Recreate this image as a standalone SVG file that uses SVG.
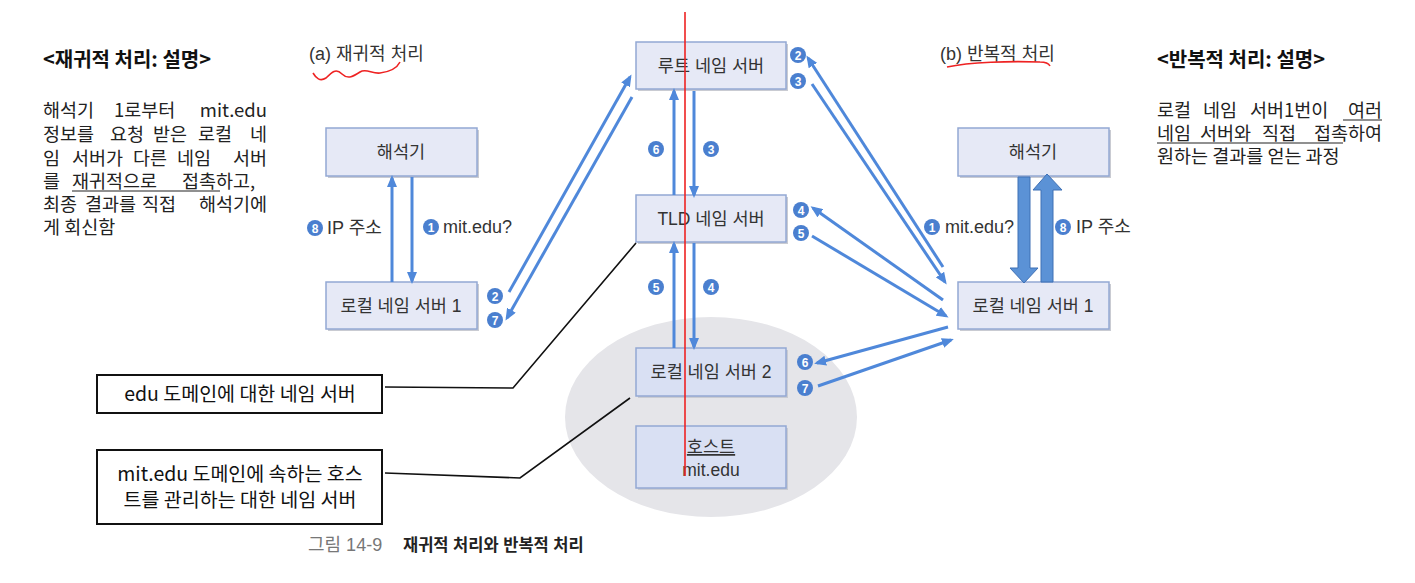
<svg xmlns="http://www.w3.org/2000/svg" width="1415" height="583" viewBox="0 0 1415 583">
<defs>
<style>
.box{fill:#e6e9f6;stroke:#93a8d3;stroke-width:1.5}
.box2{fill:#d9e0f3;stroke:#93a8d3;stroke-width:1.5}
.shadow{fill:#c9cbd2}
.bt{font-family:"Liberation Sans","Noto Sans CJK KR",sans-serif;font-size:17.5px;fill:#333;text-anchor:middle}
.lbl{font-family:"Liberation Sans","Noto Sans CJK KR",sans-serif;font-size:18px;fill:#333}
.num{font-family:"Liberation Sans",sans-serif;font-size:12px;font-weight:bold;fill:#fff;text-anchor:middle}
.nc{fill:#4a7fcf}
.arr{stroke:#4f88da;stroke-width:3;fill:none;marker-end:url(#ah)}
.desc{font-family:"Noto Sans CJK KR",sans-serif;font-size:18.5px;fill:#222}
.head{font-family:"Noto Sans CJK KR",sans-serif;font-size:20px;font-weight:bold;fill:#111}
.ul{stroke:#222;stroke-width:1.2}
.cb{fill:#fff;stroke:#111;stroke-width:2}
.ct{font-family:"Noto Sans CJK KR",sans-serif;font-size:19.5px;fill:#111;text-anchor:middle}
.lead{stroke:#111;stroke-width:1.6;fill:none}
.red{stroke:#ee2222;stroke-width:1.6;fill:none}
</style>
<marker id="ah" viewBox="0 0 12 10" refX="9" refY="5" markerWidth="12" markerHeight="10" markerUnits="userSpaceOnUse" orient="auto">
<path d="M0,0 L12,5 L0,10 z" fill="#4f88da"/>
</marker>
</defs>
<rect width="1415" height="583" fill="#fff"/>

<!-- ellipse domain -->
<ellipse cx="711" cy="417" rx="146" ry="100" fill="#e5e5e9"/>

<!-- left description -->
<g id="desc-recursive">
<text class="head" x="43" y="67">&lt;재귀적 처리: 설명&gt;</text>
<text class="desc" y="117"><tspan x="43">해석기</tspan><tspan x="114">1로부터</tspan><tspan x="267" text-anchor="end">mit.edu</tspan></text>
<text class="desc" y="141"><tspan x="43">정보를</tspan><tspan x="110">요청</tspan><tspan x="153">받은</tspan><tspan x="198">로컬</tspan><tspan x="267" text-anchor="end">네</tspan></text>
<text class="desc" y="165"><tspan x="43">임</tspan><tspan x="72">서버가</tspan><tspan x="133">다른</tspan><tspan x="177">네임</tspan><tspan x="267" text-anchor="end">서버</tspan></text>
<text class="desc" y="188"><tspan x="43">를</tspan><tspan x="72">재귀적으로</tspan><tspan x="182">접촉하고,</tspan></text>
<line class="ul" x1="72" y1="191" x2="220" y2="191"/>
<text class="desc" y="211"><tspan x="43">최종</tspan><tspan x="85">결과를</tspan><tspan x="142">직접</tspan><tspan x="267" text-anchor="end">해석기에</tspan></text>
<text class="desc" x="43" y="234">게 회신함</text>
</g>

<!-- right description -->
<g id="desc-iterative">
<text class="head" x="1157" y="67">&lt;반복적 처리: 설명&gt;</text>
<text class="desc" y="117"><tspan x="1157">로컬</tspan><tspan x="1203">네임</tspan><tspan x="1250">서버1번이</tspan><tspan x="1382" text-anchor="end">여러</tspan></text>
<line class="ul" x1="1343" y1="120" x2="1382" y2="120"/>
<text class="desc" y="140"><tspan x="1157">네임</tspan><tspan x="1200">서버와</tspan><tspan x="1262">직접</tspan><tspan x="1382" text-anchor="end">접촉하여</tspan></text>
<line class="ul" x1="1157" y1="143" x2="1343" y2="143"/>
<text class="desc" x="1157" y="163">원하는 결과를 얻는 과정</text>
</g>

<!-- titles -->
<g id="title-a">
<text class="lbl" x="309" y="60" font-size="16.5">(a) 재귀적 처리</text>
<path class="red" d="M313,73 C316,78 320,82 326,78 C332,72 336,68 342,74 C348,80 354,76 360,72 C366,68 372,74 380,73 C388,72 396,70 400,62"/>
</g>
<g id="title-b">
<text class="lbl" x="940" y="60" font-size="16.5">(b) 반복적 처리</text>
<path class="red" d="M947,67 C970,62 1010,61 1040,62 C1046,62 1049,64 1050,66"/>
</g>

<!-- nodes -->
<g id="root-server">
<rect class="shadow" x="638" y="44" width="150" height="47"/>
<rect class="box" x="636" y="42" width="150" height="47"/>
<text class="bt" x="711" y="72">루트 네임 서버</text>
</g>
<g id="tld-server">
<rect class="shadow" x="638" y="197" width="150" height="47"/>
<rect class="box" x="636" y="195" width="150" height="47"/>
<text class="bt" x="711" y="225">TLD 네임 서버</text>
</g>
<g id="local-server-2">
<rect class="shadow" x="638" y="350" width="150" height="48"/>
<rect class="box2" x="636" y="348" width="150" height="48"/>
<text class="bt" x="711" y="378">로컬 네임 서버 2</text>
</g>
<g id="host">
<rect class="shadow" x="638" y="428" width="150" height="62"/>
<rect class="box2" x="636" y="426" width="150" height="62"/>
<text class="bt" x="711" y="453" text-decoration="underline">호스트</text>
<text class="bt" x="711" y="476">mit.edu</text>
</g>
<g id="resolver-a">
<rect class="shadow" x="328" y="130" width="151" height="48"/>
<rect class="box" x="326" y="128" width="151" height="48"/>
<text class="bt" x="401" y="158">해석기</text>
</g>
<g id="local-server-1a">
<rect class="shadow" x="328" y="284" width="151" height="47"/>
<rect class="box" x="326" y="282" width="151" height="47"/>
<text class="bt" x="401" y="312">로컬 네임 서버 1</text>
</g>
<g id="resolver-b">
<rect class="shadow" x="960" y="130" width="151" height="48"/>
<rect class="box" x="958" y="128" width="151" height="48"/>
<text class="bt" x="1033" y="158">해석기</text>
</g>
<g id="local-server-1b">
<rect class="shadow" x="960" y="284" width="151" height="47"/>
<rect class="box" x="958" y="282" width="151" height="47"/>
<text class="bt" x="1033" y="312">로컬 네임 서버 1</text>
</g>

<!-- callouts -->
<g id="callout-edu">
<rect class="cb" x="97" y="375" width="285" height="38"/>
<text class="ct" x="240" y="401">edu 도메인에 대한 네임 서버</text>
</g>
<g id="callout-mit">
<rect class="cb" x="97" y="450" width="285" height="74"/>
<text class="ct" x="240" y="481">mit.edu 도메인에 속하는 호스</text>
<text class="ct" x="240" y="507">트를 관리하는 대한 네임 서버</text>
</g>

<!-- connectors -->
<g id="connectors">
<line class="arr" x1="392" y1="282" x2="392" y2="178"/>
<line class="arr" x1="412" y1="177" x2="412" y2="281"/>
<line class="arr" x1="509" y1="292" x2="630" y2="77"/>
<line class="arr" x1="632" y1="97" x2="507" y2="318"/>
<line class="arr" x1="674" y1="195" x2="674" y2="91"/>
<line class="arr" x1="694" y1="91" x2="694" y2="195"/>
<line class="arr" x1="674" y1="348" x2="674" y2="244"/>
<line class="arr" x1="694" y1="243" x2="694" y2="347"/>
<line class="arr" x1="943" y1="267" x2="808" y2="58"/>
<line class="arr" x1="812" y1="84" x2="945" y2="282"/>
<line class="arr" x1="943" y1="300" x2="813" y2="208"/>
<line class="arr" x1="812" y1="236" x2="946" y2="316"/>
<line class="arr" x1="948" y1="327" x2="817" y2="363"/>
<line class="arr" x1="818" y1="386" x2="951" y2="340"/>
<path d="M1018,177 L1030,177 L1030,268 L1038,268 L1024,283 L1010,268 L1018,268 Z" fill="#5b92d6" stroke="#3f70b5" stroke-width="1"/>
<path d="M1041,282 L1053,282 L1053,190 L1062,190 L1047,174 L1033,190 L1041,190 Z" fill="#5b92d6" stroke="#3f70b5" stroke-width="1"/>
<polyline class="lead" points="385,387 513,388 636,243"/>
<polyline class="lead" points="385,473 520,478 630,398"/>
</g>

<!-- step labels -->
<g id="step-labels">
<circle class="nc" cx="315" cy="228" r="8"/><text class="num" x="315" y="232.5">8</text>
<text class="lbl" x="327" y="234">IP 주소</text>
<circle class="nc" cx="431" cy="227" r="8"/><text class="num" x="431" y="231.5">1</text>
<text class="lbl" x="443" y="233">mit.edu?</text>
<circle class="nc" cx="495" cy="296" r="8"/><text class="num" x="495" y="300.5">2</text>
<circle class="nc" cx="495" cy="320" r="8"/><text class="num" x="495" y="324.5">7</text>
<circle class="nc" cx="656" cy="149" r="8"/><text class="num" x="656" y="153.5">6</text>
<circle class="nc" cx="711" cy="149" r="8"/><text class="num" x="711" y="153.5">3</text>
<circle class="nc" cx="656" cy="287" r="8"/><text class="num" x="656" y="291.5">5</text>
<circle class="nc" cx="711" cy="287" r="8"/><text class="num" x="711" y="291.5">4</text>
<circle class="nc" cx="798" cy="55" r="8"/><text class="num" x="798" y="59.5">2</text>
<circle class="nc" cx="798" cy="81" r="8"/><text class="num" x="798" y="85.5">3</text>
<circle class="nc" cx="801" cy="210" r="8"/><text class="num" x="801" y="214.5">4</text>
<circle class="nc" cx="801" cy="233" r="8"/><text class="num" x="801" y="237.5">5</text>
<circle class="nc" cx="805" cy="362" r="8"/><text class="num" x="805" y="366.5">6</text>
<circle class="nc" cx="805" cy="388" r="8"/><text class="num" x="805" y="392.5">7</text>
<circle class="nc" cx="932" cy="227" r="8"/><text class="num" x="932" y="231.5">1</text>
<text class="lbl" x="945" y="233">mit.edu?</text>
<circle class="nc" cx="1063" cy="227" r="8"/><text class="num" x="1063" y="231.5">8</text>
<text class="lbl" x="1076" y="233">IP 주소</text>
</g>

<!-- red annotation line -->
<line class="red" x1="685" y1="12" x2="685" y2="476" stroke-width="2"/>

<!-- caption -->
<g id="caption">
<text x="308" y="551" font-family="'Liberation Sans','Noto Sans CJK KR',sans-serif" font-size="18" fill="#777">그림 14-9</text>
<text x="403" y="551" font-family="'Liberation Sans','Noto Sans CJK KR',sans-serif" font-size="16.5" font-weight="bold" fill="#222">재귀적 처리와 반복적 처리</text>
</g>
</svg>
